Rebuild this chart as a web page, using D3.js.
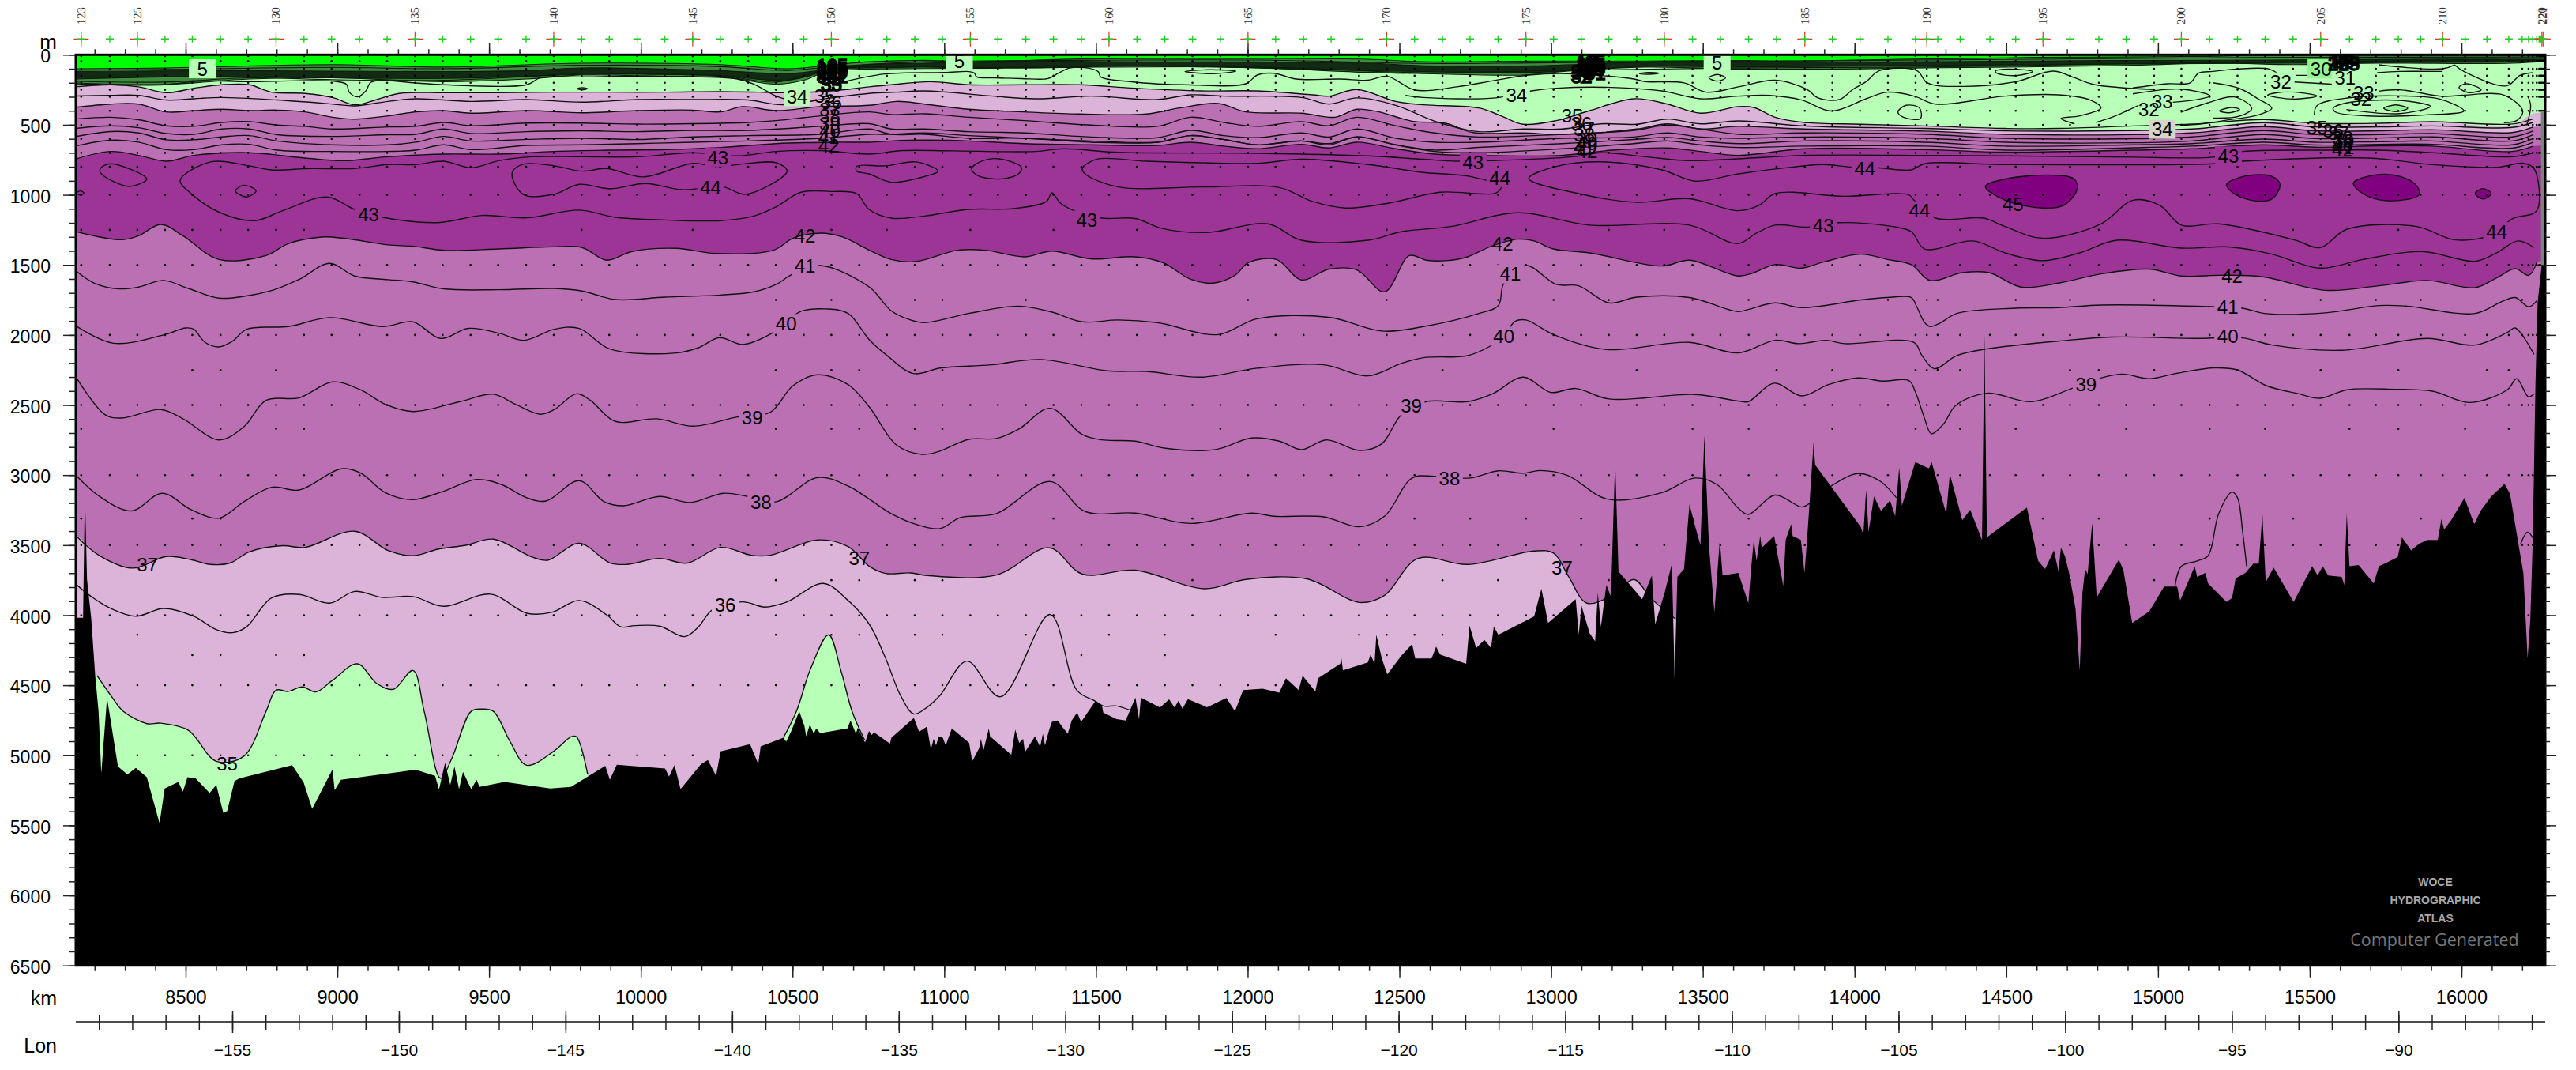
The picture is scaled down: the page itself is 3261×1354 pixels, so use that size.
<!DOCTYPE html>
<html>
<head>
<meta charset="utf-8">
<script src="https://cdn.jsdelivr.net/npm/d3@7/dist/d3.min.js"></script>
<style>
body{margin:0;background:#fff;}
svg{display:block;}
text{font-family:"Liberation Sans",Arial,sans-serif;fill:#000;}
</style>
</head>
<body>
<div id="chart"></div>
<script>
// ---- data: all points are [distance km, depth m] ----
var kmMajor = [8500,9000,9500,10000,10500,11000,11500,12000,12500,13000,13500,14000,14500,15000,15500,16000];
var depthMajor = [0,500,1000,1500,2000,2500,3000,3500,4000,4500,5000,5500,6000,6500];
var lonMajor = [-155,-150,-145,-140,-135,-130,-125,-120,-115,-110,-105,-100,-95,-90];

var stationNo = [123,124,125,126,127,128,129,130,131,132,133,134,135,136,137,138,139,140,141,142,143,144,145,146,147,148,149,150,151,152,153,154,155,156,157,158,159,160,161,162,163,164,165,166,167,168,169,170,171,172,173,174,175,176,177,178,179,180,181,182,183,184,185,186,187,188,189,190,191,192,193,194,195,196,197,198,199,200,201,202,203,204,205,206,207,208,209,210,211,212,213,214,215,216,217,218,219,220,221];
var stationKm = [8156,8250,8341,8432,8522,8615,8706,8798,8890,8981,9073,9164,9256,9347,9439,9530,9622,9713,9805,9896,9988,10079,10171,10262,10354,10445,10537,10628,10720,10811,10903,10994,11086,11177,11269,11360,11452,11543,11635,11727,11818,11910,12001,12092,12184,12275,12367,12458,12550,12642,12733,12825,12917,13008,13099,13190,13282,13373,13466,13558,13651,13743,13836,13927,14018,14110,14201,14238,14274,14348,14446,14531,14621,14710,14805,14895,14987,15077,15170,15262,15353,15445,15536,15631,15718,15792,15866,15938,16012,16084,16156,16200,16221,16235,16248,16256,16262,16265,16269];
var stationLabelled = [123,125,130,135,140,145,150,155,160,165,170,175,180,185,190,195,200,205,210,220,221];

var bottleLevels = [10,45,100,150,200,250,300,400,500,600,700,800,1000,1500,2000,2500,3000,3500,4000,4500,5000];
var sparse1250 = [123,124,125,126,127,128,129,130,131,141,145,150,152,155,158,161,165,170,175,178,180,183,186,188,192,197,200,204,208,212];
var sparse1750 = [141,148,150,153,154,157,165,170,174,176,178,181,183,188,190,191,194,196,199,203,205,207,209,214];
var sparse2250 = [127,128,130,148,150,151,153,154,165,172,179,184,186,189,190,191,192,196,197,199,202,205,208,212,213];
var sparse2670 = [123,128,130,131,148,150,151,153,154,164,170,176,181,183,186,189,192,194,198,201,203,206,208,211,213];
var sparse3310 = [123,127,128,153,154,158,162,163,164,171,173,175,177,181,183,189,195,197,201,204,209,211,213];
var sparse3750 = [148,150,151,153,154,163,170,172,174,178,185,187,190,192,194,196,199,203,205,207,209,212];
var sparse4140 = [125,148,150,151,153,154,157,160,162,166,169,170,171,172,175,178];
var sparse4285 = [127,128,130,131,159,162,170,173,176,177];

// fill boundaries / contours in the upper layers
var c34West = [[8135,229],[8253,214],[8345,229],[8436,271],[8527,239],[8619,214],[8710,214],[8783,267],[8893,276],[8984,305],[9057,357],[9130,320],[9203,276],[9350,271],[9532,271],[9715,267],[9898,267],[10080,267],[10263,263],[10391,267],[10482,271],[10628,258],[10753,229],[10825,214],[10953,192],[11081,214],[11264,214],[11446,214],[11629,239],[11848,258],[12031,258],[12214,286],[12268,295],[12360,248],[12488,333],[12579,357],[12762,380],[12835,436],[12908,496],[13017,470],[13127,399],[13273,314],[13383,352],[13492,417],[13617,370],[13668,376],[13738,446],[13835,483],[14020,496]];
var c34EastFill = [[14231,508],[14496,530],[14672,540],[14918,541],[15112,530],[15348,476],[15517,494],[15728,494],[15904,476],[16167,504],[16237,419]];
var c34EastLine = [[14231,508],[14496,526],[14672,526],[14918,508],[15112,495],[15348,462],[15517,489],[15728,489],[15904,478],[16167,494],[16237,457]];
var c35 = [[8135,295],[8253,290],[8345,290],[8436,323],[8527,314],[8619,305],[8802,323],[8984,352],[9057,365],[9167,333],[9258,314],[9441,333],[9624,320],[9806,338],[9989,320],[10172,320],[10354,323],[10465,357],[10628,308],[10752,276],[10843,267],[10935,258],[11300,314],[11483,295],[11702,320],[11812,286],[11921,295],[12177,305],[12268,352],[12360,308],[12488,361],[12616,474],[12762,549],[12908,530],[13036,530],[13163,493],[13282,496],[13383,459],[13492,493],[13617,472],[13835,508],[14231,526],[14496,543],[14918,541],[15112,530],[15348,485],[15517,515],[15728,515],[15904,508],[16167,519],[16237,482]];
var c37Up = [[8135,376],[8253,352],[8345,352],[8436,408],[8527,399],[8619,389],[8710,399],[8802,395],[8893,408],[8984,446],[9057,459],[9167,436],[9258,408],[9350,399],[9441,417],[9624,399],[9806,414],[9989,399],[10172,395],[10263,408],[10336,370],[10446,399],[10592,370],[10753,361],[10843,333],[10935,352],[11081,389],[11264,408],[11446,423],[11666,423],[11775,380],[11903,348],[11994,408],[12177,417],[12287,446],[12360,389],[12433,408],[12542,474],[12652,489],[12743,555],[12908,558],[13036,568],[13282,530],[13383,493],[13492,530],[13617,511],[13835,530],[14231,545],[14496,568],[14918,570],[15112,558],[15348,513],[15517,543],[15728,543],[15904,535],[16167,555],[16237,515]];
var c38Up = [[8135,459],[8253,446],[8345,464],[8436,507],[8527,511],[8619,483],[8710,477],[8802,502],[8893,511],[8984,530],[9167,515],[9258,511],[9350,483],[9441,507],[9624,488],[9806,488],[9989,495],[10172,492],[10354,483],[10446,470],[10592,436],[10753,408],[10825,427],[10935,421],[11081,446],[11264,470],[11483,502],[11702,511],[11812,446],[11921,483],[12031,511],[12177,477],[12268,507],[12360,446],[12488,507],[12616,558],[12762,587],[13036,568],[13273,540],[13383,502],[13492,530],[13617,568],[13835,558],[14231,568],[14496,596],[14918,599],[15112,586],[15348,541],[15517,570],[15728,570],[15904,562],[16167,586],[16237,543]];
var c39Up = [[8135,526],[8253,507],[8345,521],[8436,562],[8527,568],[8619,530],[8710,530],[8802,571],[8984,583],[9167,571],[9258,568],[9350,530],[9441,562],[9624,549],[9806,543],[9989,549],[10172,540],[10354,540],[10592,511],[10753,492],[10825,530],[10935,530],[11081,549],[11264,558],[11483,587],[11702,592],[11812,540],[11921,577],[12031,592],[12177,558],[12268,587],[12360,530],[12488,596],[12616,624],[12762,624],[13036,596],[13273,587],[13383,558],[13492,587],[13617,596],[13835,587],[14231,596],[14496,624],[14918,628],[15112,615],[15348,569],[15517,598],[15728,594],[15904,586],[16167,615],[16237,570]];
var c40Up = [[8135,585],[8253,548],[8345,558],[8436,607],[8527,607],[8619,586],[8710,577],[8802,615],[8984,643],[9167,643],[9258,624],[9350,583],[9441,615],[9624,604],[9806,596],[9989,605],[10172,586],[10354,577],[10592,568],[10753,530],[10825,568],[10935,568],[11081,596],[11264,596],[11483,624],[11702,624],[11812,577],[11921,605],[12031,643],[12177,615],[12268,634],[12360,586],[12488,643],[12616,680],[12762,661],[13036,634],[13273,605],[13383,590],[13492,615],[13617,634],[13835,615],[14231,624],[14496,652],[14918,643],[15112,634],[15348,602],[15517,624],[15728,620],[15904,615],[16167,643],[16237,597]];
var c41Up = [[8135,652],[8253,610],[8345,624],[8436,677],[8527,677],[8619,643],[8710,639],[8802,681],[8984,690],[9167,690],[9258,681],[9350,643],[9441,677],[9624,647],[9806,643],[9989,634],[10172,624],[10354,615],[10592,596],[10753,568],[10825,568],[10935,558],[11081,577],[11264,596],[11483,615],[11702,624],[11812,577],[11921,605],[12031,643],[12177,615],[12268,643],[12360,586],[12488,643],[12616,690],[12762,699],[13036,671],[13273,634],[13383,615],[13492,643],[13617,662],[13835,652],[14231,652],[14496,681],[14918,664],[15112,652],[15348,624],[15517,644],[15728,639],[15904,639],[16167,667],[16237,624]];
var c42Up = [[8135,746],[8253,690],[8345,718],[8436,760],[8527,718],[8710,699],[8893,737],[9021,756],[9167,728],[9350,709],[9532,709],[9715,690],[9898,681],[10080,677],[10263,662],[10446,634],[10628,624],[10753,624],[10825,615],[10935,609],[11081,615],[11264,634],[11483,643],[11702,647],[11812,624],[11921,652],[12031,671],[12177,639],[12268,665],[12360,624],[12488,671],[12616,709],[12762,718],[13036,718],[13200,681],[13383,665],[13492,690],[13617,718],[13835,671],[14231,677],[14496,695],[14918,681],[15112,671],[15348,643],[15517,660],[15728,650],[15904,652],[16167,690],[16237,652]];

// deep contours
var c42Deep = [[8135,1260],[8217,1301],[8290,1320],[8345,1292],[8418,1211],[8491,1292],[8610,1461],[8765,1433],[8838,1348],[8948,1301],[9021,1310],[9167,1357],[9249,1367],[9350,1395],[9532,1386],[9715,1371],[9806,1376],[9888,1466],[9971,1404],[10117,1382],[10245,1418],[10437,1395],[10501,1310],[10592,1273],[10665,1301],[10753,1395],[10825,1461],[10907,1476],[11044,1395],[11136,1395],[11264,1442],[11355,1401],[11483,1457],[11629,1442],[11720,1483],[11812,1602],[11885,1630],[11958,1574],[12003,1483],[12095,1461],[12177,1607],[12268,1530],[12360,1536],[12451,1692],[12533,1433],[12588,1466],[12652,1470],[12725,1442],[12798,1371],[12890,1316],[12944,1329],[13008,1386],[13127,1414],[13365,1508],[13456,1466],[13617,1579],[13668,1555],[13738,1498],[13826,1523],[13897,1480],[14020,1423],[14108,1461],[14187,1498],[14249,1611],[14355,1555],[14443,1555],[14548,1658],[14672,1630],[14812,1564],[14971,1530],[15077,1579],[15200,1574],[15341,1583],[15552,1681],[15728,1649],[15887,1611],[16045,1662],[16116,1592],[16177,1527],[16222,1574],[16248,1480]];
var c41 = [[8135,1536],[8199,1630],[8281,1671],[8345,1658],[8427,1611],[8509,1668],[8610,1737],[8692,1724],[8792,1677],[8875,1602],[8975,1489],[9057,1579],[9167,1605],[9249,1621],[9350,1671],[9532,1677],[9715,1668],[9806,1686],[9916,1747],[10080,1730],[10263,1715],[10373,1692],[10446,1639],[10501,1564],[10592,1504],[10753,1658],[10825,1827],[10889,1893],[10935,1912],[11081,1846],[11245,1794],[11355,1837],[11455,1906],[11574,1893],[11702,1912],[11903,1997],[12031,1884],[12268,1874],[12442,1972],[12579,1940],[12762,1846],[12826,1790],[12844,1630],[12917,1504],[13017,1639],[13090,1649],[13191,1771],[13282,1730],[13456,1733],[13615,1833],[13650,1818],[13738,1771],[13826,1805],[14020,1750],[14108,1733],[14187,1733],[14205,1799],[14231,1912],[14249,1940],[14284,1912],[14337,1846],[14531,1809],[14672,1805],[14812,1786],[15129,1795],[15279,1809],[15350,1846],[15552,1842],[15728,1790],[15816,1793],[16045,1846],[16133,1762],[16177,1733],[16222,1799],[16248,1756]];
var c40 = [[8135,1931],[8262,2059],[8427,2000],[8500,1950],[8527,1959],[8564,2053],[8610,2085],[8655,2044],[8701,1959],[8838,1940],[8975,1876],[9149,1940],[9249,1906],[9340,2025],[9432,1953],[9532,1987],[9615,2038],[9715,1959],[9797,1953],[9898,2100],[10117,2128],[10190,2091],[10259,2019],[10336,2068],[10437,1982],[10528,1831],[10610,1814],[10683,1846],[10753,2034],[10807,2138],[10898,2275],[10990,2235],[11154,2213],[11318,2175],[11538,2256],[11666,2260],[11848,2301],[12031,2237],[12250,2213],[12396,2292],[12506,2203],[12579,2162],[12725,2147],[12798,2081],[12844,2010],[12881,1903],[12917,1893],[13008,1997],[13182,2104],[13456,2053],[13617,2128],[13738,2038],[13817,2062],[13906,2038],[13967,2062],[14196,2053],[14222,2147],[14263,2241],[14337,2147],[14434,2100],[14672,2044],[14848,2015],[15129,2025],[15279,2021],[15376,2072],[15605,2109],[15887,2025],[16045,2072],[16151,1982],[16177,1950],[16239,2138]];
var c39 = [[8135,2288],[8235,2570],[8290,2593],[8418,2532],[8491,2598],[8610,2749],[8692,2655],[8765,2467],[8875,2448],[8984,2335],[9076,2391],[9158,2495],[9249,2546],[9404,2476],[9514,2423],[9587,2495],[9669,2566],[9715,2532],[9788,2420],[9834,2467],[9916,2617],[10053,2598],[10172,2651],[10318,2585],[10427,2551],[10501,2363],[10583,2284],[10683,2354],[10753,2514],[10843,2786],[10926,2852],[10980,2833],[11081,2745],[11172,2739],[11245,2673],[11349,2523],[11455,2711],[11519,2749],[11629,2758],[11729,2809],[11894,2818],[12013,2735],[12104,2758],[12177,2818],[12259,2749],[12369,2824],[12442,2777],[12506,2570],[12588,2476],[12725,2476],[12807,2420],[12908,2301],[12999,2410],[13081,2382],[13191,2457],[13474,2425],[13617,2472],[13650,2476],[13735,2344],[13826,2435],[13914,2354],[14011,2307],[14090,2329],[14179,2326],[14201,2410],[14231,2598],[14253,2705],[14293,2636],[14333,2504],[14434,2416],[14584,2476],[14716,2382],[14812,2307],[14883,2279],[14971,2312],[15059,2275],[15182,2235],[15262,2250],[15358,2363],[15464,2420],[15535,2452],[15623,2391],[15781,2388],[15904,2401],[16027,2482],[16151,2391],[16182,2312],[16221,2442],[16239,2420]];
var c38 = [[8135,2993],[8217,3153],[8321,3256],[8423,3130],[8518,3247],[8610,3307],[8692,3190],[8783,3087],[8875,3106],[9012,2955],[9076,2984],[9158,3125],[9249,3175],[9350,3115],[9459,3031],[9541,3068],[9624,3162],[9688,3185],[9797,3040],[9879,3190],[9943,3219],[10062,3153],[10162,3196],[10272,3130],[10354,3153],[10446,3190],[10583,3017],[10683,3078],[10753,3172],[10825,3275],[10898,3345],[10986,3382],[11053,3303],[11172,3275],[11349,3046],[11465,3260],[11629,3271],[11812,3345],[12013,3271],[12086,3294],[12250,3298],[12369,3369],[12451,3294],[12542,3021],[12616,3008],[12734,3021],[12826,2969],[12908,2987],[12963,2967],[13054,3002],[13186,3172],[13365,3125],[13474,3021],[13547,3068],[13617,3237],[13650,3281],[13738,3143],[13826,3228],[13853,3200],[13923,3078],[14011,2989],[14082,3040],[14138,3162]];
var c37Deep = [[8135,3425],[8217,3576],[8326,3664],[8436,3581],[8518,3604],[8582,3638],[8646,3628],[8710,3548],[8820,3504],[8893,3516],[9057,3401],[9167,3538],[9249,3576],[9331,3529],[9423,3501],[9514,3457],[9642,3585],[9693,3608],[9797,3487],[9898,3627],[9952,3638],[10062,3595],[10153,3628],[10263,3516],[10364,3572],[10427,3572],[10583,3463],[10683,3510],[10753,3651],[10807,3702],[10889,3698],[10944,3717],[11172,3713],[11346,3519],[11455,3707],[11629,3679],[11857,3811],[11994,3745],[12195,3741],[12369,3909],[12451,3858],[12561,3595],[12725,3638],[12944,3542],[13008,3557],[13058,3726],[13118,3914],[13209,3848],[13273,3745],[13328,3877],[13410,4027]];
var c37Bump = [[15056,3792],[15077,3651],[15129,3613],[15165,3576],[15200,3275],[15244,3121],[15262,3162],[15279,3407],[15292,3651]];
var c37Edge = [[16195,3491],[16218,3407],[16239,3463]];
var c36 = [[8135,3773],[8189,3867],[8253,3952],[8336,4008],[8427,3952],[8527,4008],[8600,4102],[8655,4125],[8701,4083],[8783,3877],[8875,3852],[8975,3914],[9057,3830],[9149,3873],[9249,3867],[9350,3937],[9505,3850],[9624,3986],[9706,3980],[9797,3895],[9888,3999],[9934,4083],[9980,4074],[10062,4078],[10144,4153],[10190,4083],[10236,3961],[10336,3905],[10409,3942],[10482,3905],[10601,3773],[10683,3895],[10753,4065],[10807,4309],[10856,4573],[10900,4705],[10943,4658],[10986,4573],[11075,4328],[11185,4582],[11349,3995],[11437,4535],[11498,4614],[11524,4648],[11568,4648],[11610,4676]];
var c35West = [[8208,4431],[8253,4572],[8294,4685],[8372,4774],[8418,4771],[8509,4821],[8601,5043],[8692,5006],[8765,4686],[8798,4535],[8838,4544],[8884,4512],[8929,4548],[8984,4465],[9066,4347],[9130,4488],[9185,4529],[9249,4394],[9286,4685],[9340,5165],[9377,5024],[9441,4686],[9474,4670],[9514,4686],[9569,4902],[9624,5071],[9715,4968],[9770,4868],[9788,4868],[9825,5137]];
var c35East = [[10470,4874],[10513,4685],[10560,4380],[10619,4140],[10660,4400],[10696,4685],[10738,4893]];

// closed contours around the core of the high values
var c43 = [[16237,699],[16167,728],[15904,699],[15728,681],[15552,681],[15279,690],[15182,731],[14918,731],[14496,722],[14231,718],[13835,718],[13615,743],[13456,756],[13310,728],[13163,699],[13072,728],[12798,756],[12689,760],[12579,746],[12396,722],[12031,703],[11574,696],[11391,671],[11300,690],[11026,686],[10862,684],[10752,709],[10592,684],[10446,690],[10318,722],[10172,699],[9989,728],[9806,728],[9642,728],[9532,756],[9441,807],[9350,760],[9258,784],[9167,784],[9057,812],[8911,812],[8783,822],[8710,793],[8582,765],[8482,897],[8518,991],[8619,1132],[8728,1184],[8820,1113],[8966,1015],[9057,1104],[9149,1160],[9331,1198],[9477,1147],[9624,1164],[9797,1109],[9916,1160],[10080,1179],[10263,1184],[10373,1151],[10446,1085],[10528,981],[10628,976],[10711,991],[10752,1104],[10825,1166],[10935,1151],[11081,1104],[11227,1098],[11337,1047],[11355,985],[11382,1057],[11428,1113],[11519,1166],[11629,1169],[11720,1241],[11866,1269],[12067,1207],[12177,1324],[12396,1324],[12506,1263],[12670,1226],[12890,1128],[13127,1216],[13456,1216],[13615,1348],[13677,1273],[13738,1216],[13844,1230],[13950,1198],[14126,1226],[14187,1263],[14231,1386],[14390,1329],[14496,1414],[14619,1470],[14742,1414],[14865,1324],[15077,1380],[15235,1372],[15376,1423],[15534,1523],[15675,1461],[15869,1404],[16045,1474],[16116,1414],[16186,1329],[16239,1376]];
var loop44East = [[12926,884],[13017,797],[13182,765],[13365,822],[13474,902],[13617,850],[13791,803],[13897,784],[13994,803],[14082,808],[14187,822],[14231,778],[14496,784],[15182,778],[15279,760],[15693,737],[15904,784],[16116,803],[16204,775],[16239,812],[16248,1113],[16169,1169],[16116,1263],[16081,1301],[15975,1320],[15852,1226],[15623,1245],[15535,1376],[15447,1320],[15200,1207],[15077,1216],[15006,1075],[14918,1038],[14812,1207],[14619,1310],[14496,1226],[14425,1166],[14267,1166],[14196,1038],[14179,1000],[13967,1010],[13738,991],[13685,1075],[13615,1113],[13456,1028],[13282,1053],[13090,991]];
var loop44A = [[8219,812],[8253,778],[8372,887],[8317,940],[8263,906],[8219,840]];
var loop44B = [[8664,972],[8692,931],[8732,972],[8701,1015]];
var loop44C = [[8140,987],[8153,972],[8165,987],[8153,1002]];
var loop44D = [[9578,831],[9615,780],[9715,793],[9806,831],[9888,812],[10007,872],[10172,775],[10245,797],[10446,771],[10482,831],[10345,996],[10272,944],[10135,963],[10016,919],[9898,957],[9797,925],[9715,995],[9615,1000],[9578,887]];
var loop44E = [[10711,797],[10807,793],[10907,765],[10980,831],[10935,869],[10825,910],[10752,850],[10711,830]];
var loop44F = [[11090,812],[11127,756],[11181,743],[11254,803],[11245,850],[11181,887],[11108,859]];
var loop44G = [[11455,812],[11501,746],[11666,760],[11848,771],[12031,775],[12177,746],[12396,784],[12579,840],[12734,869],[12835,944],[12817,987],[12634,981],[12469,1057],[12323,1094],[12214,1047],[12104,948],[11848,944],[11574,944],[11464,850]];
var patch45A = [[14431,940],[14496,887],[14654,859],[14724,887],[14733,963],[14689,1075],[14619,1094],[14496,1038]];
var patch45B = [[15226,925],[15288,865],[15376,869],[15402,925],[15376,1028],[15306,1038],[15244,981]];
var patch45C = [[15644,916],[15711,859],[15799,869],[15852,934],[15860,1000],[15755,1042],[15675,991]];
var patch45D = [[16045,991],[16072,955],[16098,991],[16072,1030]];

// contours in the light green layer
var c33West = [[8135,207],[8431,214],[8546,188],[8710,192],[8984,188],[9030,211],[9039,267],[9066,301],[9094,258],[9112,195],[9258,201],[9350,214],[9624,214],[9669,164],[9806,158],[10080,154],[10318,173],[10373,211],[10446,295],[10482,320]];
var c33East = [[10666,194],[10804,137],[11000,127],[11082,120],[11099,130],[11107,158],[11170,165],[11255,170],[11342,170],[11377,130],[11412,95],[11473,95],[11507,120],[11516,158],[11618,193],[11705,208],[11793,214],[11994,207],[12031,145],[12086,132],[12159,173],[12305,173],[12396,182],[12460,154],[12552,252],[12689,229],[12817,182],[12926,145],[13054,135],[13273,173],[13310,192],[13438,201],[13511,267],[13617,229],[13738,182],[13844,248],[13879,308],[13950,320],[13994,248],[14038,192],[14082,113],[14205,113],[14240,201],[14355,226],[14531,192],[14654,117],[14725,164],[14786,211],[14988,248]];
var c34Mid = [[12520,290],[12579,305],[12817,308],[12935,258],[13017,239],[13200,233],[13365,258],[13492,314],[13617,295],[13721,290],[13826,323],[13923,402],[14038,314],[14108,267],[14196,295],[14267,352],[14496,295],[14672,286],[14777,323],[14812,380],[14742,436],[14680,455],[14725,493]];
var c32a = [[14795,483],[14848,446],[14936,361]];
var c32b = [[14917,237],[15031,207],[15106,200],[15133,132],[15181,119],[15260,102],[15366,102],[15397,138]];
var c32c = [[15181,200],[15269,241],[15331,316],[15375,382],[15331,429],[15225,467],[15137,495],[15075,504]];
var c32d = [[14917,279],[15075,245],[15172,294],[15137,316],[15049,339]];
var c32e = [[15075,410],[15163,344],[15251,301],[15309,382],[15269,438],[15181,452]];
var c32f = [[15515,429],[15524,363],[15630,307],[15797,294],[15929,316],[16008,401],[15885,429],[15709,438],[15586,410],[15577,382],[15621,344],[15797,326],[15898,369],[15797,420],[15621,391]];
var c32g = [[15727,260],[15797,250],[15938,297],[16008,288],[16140,288],[16202,401],[16184,467],[16140,485]];
var c32h = [[15977,72],[16008,119],[16149,222],[16193,147],[16237,128]];
var c32i = [[15727,72],[15938,100],[15977,72]];
var c32j = [[15722,128],[15797,119],[15938,119]];
var c32k = [[15449,194],[15595,213]];
var c32l = [[15454,147],[15498,147]];
var c32m = [[16219,297],[16228,363],[16215,504]];
var lens1 = [[14143,408],[14170,361],[14214,380],[14217,455],[14161,446]];
var lens2 = [[14464,117],[14513,102],[14587,120],[14531,149],[14469,132]];
var lens3 = [[11793,120],[11876,107],[11961,117],[11885,135]];
var lens4 = [[13291,135],[13319,126],[13355,132],[13319,139]];
var lens5 = [[13520,164],[13547,141],[13575,164],[13547,188]];
var lens6 = [[9790,242],[9806,235],[9825,242],[9806,250]];
var lens7 = [[15361,288],[15427,264],[15524,294],[15445,316]];
var lens8 = [[15203,401],[15243,376],[15269,391],[15234,414]];
var lens9 = [[15992,232],[16017,207],[16065,250],[16021,269]];
var patch31 = [[15744,382],[15784,358],[15823,382],[15784,406]];

// surface layer (packed contours, 0-200 m)
var surfaceBright = [[8135,100],[8436,94],[8984,70],[9350,88],[9806,60],[10263,70],[10482,100],[10640,70],[10753,50],[10935,40],[11082,49],[11447,30],[11702,26],[12031,26],[12396,32],[12579,50],[12944,45],[13310,45],[13617,41],[13791,45],[14143,32],[14407,26],[14584,19],[15200,11],[15288,4],[16300,4]];
var surfaceCoreTop = [[8135,120],[8619,113],[8984,117],[9350,120],[9624,113],[9806,94],[10080,102],[10263,113],[10482,135],[10628,102],[10753,70],[10935,60],[11081,51],[11300,45],[11666,51],[12031,51],[12396,60],[12579,79],[12944,79],[13310,51],[13617,51],[14143,51],[14848,41],[15376,38],[15728,32],[16300,32]];
var surfaceCoreBottom = [[8135,173],[8619,154],[8984,165],[9350,169],[9624,154],[9806,135],[10080,141],[10263,148],[10482,182],[10645,102],[10753,94],[10935,88],[11081,94],[11300,88],[11666,83],[12031,94],[12396,113],[12579,120],[12944,126],[13310,83],[13617,88],[14143,79],[14848,66],[15376,60],[15728,56],[16300,51]];
var surfaceBottom = [[8135,201],[8436,211],[8710,173],[8984,164],[9350,192],[9624,173],[9806,145],[10080,154],[10263,154],[10446,211],[10537,182],[10628,107],[10753,102],[10935,98],[11300,94],[11666,79],[12031,94],[12396,126],[12579,135],[12908,145],[13054,117],[13310,88],[13617,102],[13967,102],[14231,94],[14848,79],[15200,60],[15446,70],[15728,60],[16169,60],[16300,41]];
var meshLine1 = [[8135,110],[8436,105],[8984,90],[9350,100],[9806,75],[10263,85],[10482,112],[10640,84],[10935,50],[11447,40],[12031,38],[12579,62],[12944,58],[13617,46],[14407,35],[15288,20],[16300,16]];
var meshLine2 = [[8135,190],[8436,195],[8710,165],[8984,178],[9350,182],[9806,140],[10263,150],[10446,195],[10628,102],[11300,92],[12031,88],[12579,128],[13054,110],[13617,95],[14231,88],[15200,55],[16300,38]];

// sea floor
var bathy = [[8100,4018],[8162,4018],[8168,3125],[8175,3745],[8189,4027],[8202,4431],[8213,4686],[8222,5128],[8241,4591],[8248,4686],[8277,5081],[8308,5137],[8336,5090],[8372,5156],[8414,5485],[8431,5237],[8476,5190],[8491,5259],[8506,5156],[8533,5165],[8579,5269],[8601,5212],[8624,5410],[8637,5397],[8661,5184],[8677,5165],[8851,5071],[8889,5194],[8917,5382],[8984,5100],[8991,5250],[9012,5175],[9258,5103],[9322,5147],[9335,5244],[9355,5053],[9372,5212],[9386,5081],[9401,5241],[9414,5118],[9441,5241],[9459,5175],[9468,5226],[9551,5190],[9702,5237],[9770,5226],[9883,5075],[9898,5175],[9921,5068],[10080,5094],[10093,5152],[10111,5071],[10131,5241],[10199,5062],[10221,5034],[10248,5147],[10263,4972],[10360,4921],[10387,5062],[10395,4936],[10470,4874],[10479,4902],[10496,4827],[10522,4686],[10539,4789],[10545,4864],[10557,4780],[10570,4846],[10578,4808],[10591,4842],[10681,4808],[10691,4752],[10709,4846],[10715,4802],[10739,4908],[10752,4827],[10761,4855],[10769,4836],[10821,4917],[10826,4874],[10900,4733],[10917,4832],[10943,4795],[10956,4958],[10965,4883],[10973,4930],[10982,4864],[10995,4874],[11005,4930],[11025,4808],[11082,4911],[11092,5043],[11115,4949],[11121,4883],[11129,4968],[11147,4808],[11151,4864],[11221,4996],[11234,4817],[11247,4911],[11260,4883],[11266,4977],[11299,4864],[11316,4940],[11325,4846],[11332,4930],[11346,4817],[11355,4761],[11374,4752],[11390,4799],[11407,4846],[11420,4752],[11438,4695],[11451,4761],[11498,4614],[11520,4648],[11524,4695],[11568,4742],[11598,4752],[11630,4588],[11642,4742],[11648,4588],[11711,4658],[11741,4601],[11759,4658],[11772,4611],[11785,4667],[11803,4600],[11866,4657],[11930,4591],[11958,4685],[11985,4535],[12049,4525],[12104,4553],[12126,4450],[12168,4535],[12181,4431],[12223,4544],[12232,4450],[12305,4347],[12309,4309],[12314,4394],[12396,4337],[12405,4281],[12418,4347],[12424,4140],[12442,4309],[12460,4422],[12506,4290],[12542,4206],[12552,4309],[12606,4309],[12621,4224],[12634,4281],[12720,4347],[12731,4074],[12753,4234],[12780,4177],[12802,4234],[12811,4080],[12826,4140],[12944,4008],[12968,3811],[12990,4055],[13081,3886],[13091,4140],[13100,3933],[13127,4130],[13145,4187],[13154,3839],[13164,4083],[13182,3783],[13197,3867],[13211,2899],[13222,3689],[13282,3839],[13300,3886],[13332,3717],[13343,4065],[13374,3839],[13398,3632],[13407,4459],[13416,3726],[13438,3670],[13456,3209],[13474,3360],[13492,3501],[13505,2720],[13520,3501],[13538,3980],[13556,3463],[13565,3717],[13617,3698],[13650,3914],[13659,3670],[13668,3463],[13677,3613],[13689,3435],[13694,3519],[13735,3435],[13765,3792],[13773,3463],[13791,3350],[13796,3435],[13823,3463],[13835,3698],[13844,3444],[13865,2767],[13870,2927],[14020,3369],[14029,3425],[14038,3106],[14046,3407],[14064,3153],[14087,3256],[14117,3181],[14134,3294],[14147,2946],[14156,3219],[14200,2908],[14245,2952],[14254,2908],[14302,3275],[14314,2993],[14355,3322],[14381,3247],[14420,3463],[14428,2000],[14436,3444],[14568,3232],[14605,3613],[14628,3670],[14657,3538],[14672,3689],[14680,3519],[14693,3576],[14707,3698],[14728,3952],[14742,4394],[14751,3839],[14760,3670],[14768,3707],[14783,3341],[14798,3873],[14871,3604],[14886,3679],[14915,4055],[14971,3974],[15020,3796],[15063,3796],[15073,3895],[15121,3651],[15129,3726],[15156,3698],[15165,3773],[15226,3905],[15244,3877],[15256,3736],[15288,3698],[15314,3632],[15332,3632],[15344,3275],[15355,3764],[15381,3660],[15447,3905],[15508,3651],[15526,3717],[15543,3651],[15561,3717],[15605,3726],[15614,3783],[15622,3275],[15631,3651],[15661,3642],[15711,3773],[15728,3651],[15755,3623],[15790,3585],[15804,3444],[15834,3538],[15860,3491],[15887,3463],[15922,3463],[15934,3313],[15943,3388],[15966,3322],[16010,3162],[16042,3350],[16063,3256],[16098,3153],[16142,3063],[16160,3134],[16204,3698],[16218,4309],[16227,4027],[16235,3463],[16244,2335],[16251,1771],[16265,1489],[16270,1113],[16300,1113],[16300,6600],[8100,6600]];
var noData = [[16262,400],[16282,400],[16282,1500],[16262,1500]];

// contour labels: text, km, depth, colour of the patch behind it (null = none)
var contourLabels = [
  ['5',8555,100,'#b8ffb8'],['5',11050,45,'#b8ffb8'],['5',13547,55,'#b8ffb8'],
  ['34',10515,299,'#b8ffb8'],['34',12886,286,'#b8ffb8'],['34',15014,532,'#d8d4c8'],
  ['43',10254,731,'#9c3595'],['44',10230,948,'#9c3595'],['43',9103,1141,'#9c3595'],
  ['42',10541,1292,null],['41',10541,1508,'#ba70b2'],['40',10479,1918,'#ba70b2'],
  ['39',10367,2589,'#ba70b2'],['38',10396,3190,'#ba70b2'],['37',8374,3636,null],
  ['36',10278,3924,'#dcb4d9'],['35',8637,5062,null],['37',10720,3591,null],
  ['43',11470,1179,'#9c3595'],['43',12743,765,'#9c3595'],['44',12831,878,'#9c3595'],
  ['42',12840,1348,null],['41',12866,1564,'#ba70b2'],['40',12844,2010,'#ba70b2'],
  ['39',12539,2504,'#ba70b2'],['38',12665,3025,'#ba70b2'],['37',13036,3660,null],
  ['44',14034,812,'#9c3595'],['45',14522,1066,null],['44',14214,1113,'#9c3595'],
  ['43',13897,1216,'#9c3595'],['44',16116,1263,'#9c3595'],['42',15244,1582,null],
  ['41',15230,1799,'#ba70b2'],['40',15230,2010,'#ba70b2'],['43',15232,722,'#9c3595'],
  ['39',14763,2350,'#ba70b2'],['30',15537,100,'#92f592'],['31',15617,166,'#b8ffb8'],
  ['32',15405,194,'#b8ffb8']
];
// labels piled up where the section turns: no patch behind them
var pileLabels = [
  ['10',10614,80],['15',10648,80],['20',10614,100],['25',10648,100],['28',10614,125],['29',10648,125],['30',10614,155],['31',10648,155],['32',10628,172],['33',10628,207],
  ['35',10606,295],['36',10628,338],['37',10623,389],['38',10623,436],['39',10623,493],['40',10623,540],['41',10619,587],['42',10619,647],
  ['10',13118,50],['15',13145,50],['20',13118,75],['25',13145,75],['28',13118,100],['29',13145,100],['30',13100,126],['31',13145,130],['32',13100,150],
  ['35',13069,436],['36',13100,493],['37',13109,530],['38',13109,568],['39',13118,605],['40',13118,633],['41',13109,662],['42',13118,690],
  ['33',15678,269],['32',15669,316],['33',15014,335],['32',14970,388],
  ['10',15595,30],['15',15630,30],['20',15595,60],['25',15630,60],['28',15612,45],
  ['35',15524,517],['36',15577,542],['37',15595,561],['38',15608,590],['39',15612,617],['40',15608,645],['41',15612,660],['42',15608,677]
];

// ---- layout ----
var width = 3261, height = 1354;
var x = d3.scaleLinear().domain([8500,16000]).range([235,3116]);
var y = d3.scaleLinear().domain([0,6500]).range([69.3,1221.7]);
var lon = d3.scaleLinear().domain([-155,-90]).range([294,3036.3]);
var plotLeft = 96, plotRight = 3222;
var colGreen = '#b8ffb8', colPink = '#dcb4d9', colMid = '#ba70b2', colDark = '#9c3595', colDeep = '#80007f';

var svg = d3.select('#chart').append('svg').attr('width',width).attr('height',height);
svg.append('rect').attr('width',width).attr('height',height).attr('fill','#fff');
svg.append('defs').append('clipPath').attr('id','plotClip').append('rect')
  .attr('x',plotLeft).attr('y',y(0)).attr('width',plotRight-plotLeft).attr('height',y(6500)-y(0));

var smooth = d3.line().x(function(d){return x(d[0]);}).y(function(d){return y(d[1]);}).curve(d3.curveCatmullRom.alpha(0.5));
var smoothClosed = d3.line().x(function(d){return x(d[0]);}).y(function(d){return y(d[1]);}).curve(d3.curveCatmullRomClosed.alpha(0.5));
var straight = d3.line().x(function(d){return x(d[0]);}).y(function(d){return y(d[1]);});

// close the band between two curves that both run west to east
function band(top, bottom){
  return smooth(top)+'L'+smooth(bottom.slice().reverse()).slice(1)+'Z';
}
function toEdge(a){
  var s = [[8100,a[0][1]]].concat(a);
  return s.concat([[16300,a[a.length-1][1]]]);
}
var seaTop = [[8100,0],[16300,0]];
var seaBottom = [[8100,6600],[16300,6600]];

var plot = svg.append('g').attr('clip-path','url(#plotClip)');
function fillPath(d,col){ plot.append('path').attr('d',d).attr('fill',col); }

// colour layers, painted from the back
fillPath(band(seaTop,seaBottom),colPink);
fillPath(band(seaTop,toEdge(c34West.concat(c34EastFill))),colGreen);
fillPath(band(toEdge(c37Up),toEdge(c37Deep.concat([[13450,5200],[16300,5200]]))),colMid);
fillPath(band(toEdge(c42Up),toEdge(c42Deep)),colDark);
[patch45A,patch45B,patch45C,patch45D].forEach(function(p){ fillPath(smoothClosed(p),colDeep); });
fillPath(smooth(c35West)+'L'+x(9825)+','+y(5600)+'L'+x(8100)+','+y(5600)+'L'+x(8100)+','+y(4300)+'Z',colGreen);
fillPath(smooth(c35East)+'L'+x(10738)+','+y(5400)+'L'+x(10470)+','+y(5400)+'Z',colGreen);
fillPath(smoothClosed(patch31),'#92f592');

// surface layer
fillPath(band(seaTop,toEdge(surfaceBottom)),'#3f8c3f');
fillPath(band(toEdge(surfaceCoreTop),toEdge(surfaceCoreBottom)),'#122a14');
fillPath(band(seaTop,toEdge(surfaceBright)),'#00ff00');

// contour lines
var contourLines = [c34West.concat(c34EastLine),c35,c37Up,c38Up,c39Up,c40Up,c41Up,c42Up,c43,c42Deep,c41,c40,c39,c38,c37Deep,c37Bump,c37Edge,c36,c35West,c35East,c33West,c33East,c34Mid,c32a,c32b,c32c,c32d,c32e,c32f,c32g,c32h,c32i,c32j,c32k,c32l,c32m];
plot.selectAll('path.contour').data(contourLines).enter().append('path').attr('class','contour')
  .attr('d',smooth).attr('fill','none').attr('stroke','#111').attr('stroke-width',1.4);
var contourLoops = [loop44East,loop44A,loop44B,loop44C,loop44D,loop44E,loop44F,loop44G,patch45A,patch45B,patch45C,patch45D,lens1,lens2,lens3,lens4,lens5,lens6,lens7,lens8,lens9,patch31];
plot.selectAll('path.loop').data(contourLoops).enter().append('path').attr('class','loop')
  .attr('d',smoothClosed).attr('fill','none').attr('stroke','#111').attr('stroke-width',1.4);
plot.selectAll('path.mesh').data([surfaceBright,surfaceBottom,surfaceCoreTop,surfaceCoreBottom,meshLine1,meshLine2]).enter().append('path').attr('class','mesh')
  .attr('d',smooth).attr('fill','none').attr('stroke','#0c1c0c').attr('stroke-width',1.1);

// bottle positions
var bottles = [];
stationKm.forEach(function(k){
  bottleLevels.forEach(function(l){ bottles.push([k,l]); });
});
function addSparse(list,level){
  list.forEach(function(n){ bottles.push([stationKm[stationNo.indexOf(n)],level]); });
}
addSparse(sparse1250,1250); addSparse(sparse1750,1750); addSparse(sparse2250,2250); addSparse(sparse2670,2670);
addSparse(sparse3310,3310); addSparse(sparse3750,3750); addSparse(sparse4140,4140); addSparse(sparse4285,4285);
plot.selectAll('circle.bottle').data(bottles).enter().append('circle').attr('class','bottle')
  .attr('cx',function(d){return x(d[0]);}).attr('cy',function(d){return y(d[1]);}).attr('r',1.3).attr('fill','#000');

// sea floor on top
fillPath(straight(bathy)+'Z','#000');
fillPath(straight(noData)+'Z','#808080');

// contour labels
var labelG = svg.append('g').attr('clip-path','url(#plotClip)');
contourLabels.forEach(function(l){
  if(l[3]){
    labelG.append('rect').attr('x',x(l[1])-17).attr('y',y(l[2])-12).attr('width',34).attr('height',24).attr('fill',l[3]);
  }
});
contourLabels.concat(pileLabels).forEach(function(l){
  var t = labelG.append('text').attr('x',x(l[1])).attr('y',y(l[2])).attr('dy','.36em').attr('text-anchor','middle').attr('font-size',24).text(l[0]);
  // the surface piles print as solid black in the original
  if(l.length==3 && l[2]<210){ t.attr('stroke','#000').attr('stroke-width',1.6); }
});

// watermark
var mark = svg.append('g').attr('text-anchor','middle');
[['WOCE',1121],['HYDROGRAPHIC',1144],['ATLAS',1167]].forEach(function(m){
  mark.append('text').attr('x',3083).attr('y',m[1]).attr('font-size',14).attr('font-weight','bold').style('fill','#a8a8a8').text(m[0]);
});
mark.append('text').attr('x',3082).attr('y',1197).attr('font-size',21.5).style('font-family','"Open Sans",sans-serif').style('fill','#777').text('Computer Generated');

// frame
svg.append('rect').attr('x',plotLeft).attr('y',y(0)).attr('width',plotRight-plotLeft).attr('height',y(6500)-y(0))
  .attr('fill','none').attr('stroke','#000').attr('stroke-width',3);

// axes: major ticks and labels, minor ticks from a second axis
var kmMinor = d3.range(8200,16300,100);
var depthMinor = d3.range(0,6600,100);
function styleAxis(g){
  g.select('.domain').remove();
  g.selectAll('.tick line').attr('stroke','#222').attr('stroke-width',1.5);
  return g;
}
styleAxis(svg.append('g').attr('transform','translate(0,'+y(0)+')').call(d3.axisTop(x).tickValues(kmMinor).tickSize(7).tickFormat('')));
styleAxis(svg.append('g').attr('transform','translate(0,'+y(0)+')').call(d3.axisTop(x).tickValues(kmMajor).tickSize(15).tickFormat('')));
styleAxis(svg.append('g').attr('transform','translate(0,'+y(6500)+')').call(d3.axisBottom(x).tickValues(kmMinor).tickSize(7).tickFormat('')));
var kmAxis = styleAxis(svg.append('g').attr('transform','translate(0,'+y(6500)+')').call(d3.axisBottom(x).tickValues(kmMajor).tickSize(15).tickPadding(17).tickFormat(d3.format('d'))));
kmAxis.selectAll('text').attr('font-size',23.5).style('font-family','"Liberation Sans",Arial,sans-serif').style('fill','#000');

styleAxis(svg.append('g').attr('transform','translate('+plotLeft+',0)').call(d3.axisLeft(y).tickValues(depthMinor).tickSize(9).tickFormat('')));
var depthAxis = styleAxis(svg.append('g').attr('transform','translate('+plotLeft+',0)').call(d3.axisLeft(y).tickValues(depthMajor).tickSize(16).tickPadding(16).tickFormat(d3.format('d'))));
depthAxis.selectAll('text').attr('font-size',23).attr('dy','.42em').style('font-family','"Liberation Sans",Arial,sans-serif').style('fill','#000');
styleAxis(svg.append('g').attr('transform','translate('+plotRight+',0)').call(d3.axisRight(y).tickValues(depthMinor).tickSize(6).tickFormat('')));
styleAxis(svg.append('g').attr('transform','translate('+plotRight+',0)').call(d3.axisRight(y).tickValues(depthMajor).tickSize(14).tickFormat('')));

// longitude axis
var lonY = 1293;
svg.append('line').attr('x1',plotLeft).attr('x2',plotRight).attr('y1',lonY).attr('y2',lonY).attr('stroke','#111').attr('stroke-width',1.6);
styleAxis(svg.append('g').attr('transform','translate(0,'+(lonY-9)+')').call(d3.axisBottom(lon).tickValues(d3.range(-159,-85)).tickSize(19).tickFormat('')));
var lonAxis = styleAxis(svg.append('g').attr('transform','translate(0,'+(lonY-14)+')').call(d3.axisBottom(lon).tickValues(lonMajor).tickSize(28).tickPadding(14).tickFormat(function(d){return '\u2212'+Math.abs(d);})));
lonAxis.selectAll('text').attr('font-size',21).style('font-family','"Liberation Sans",Arial,sans-serif').style('fill','#000');

// axis names
svg.append('text').attr('x',72).attr('y',62).attr('text-anchor','end').attr('font-size',26).text('m');
svg.append('text').attr('x',72).attr('y',1272).attr('text-anchor','end').attr('font-size',25).text('km');
svg.append('text').attr('x',72).attr('y',1332).attr('text-anchor','end').attr('font-size',25).text('Lon');

// station marks along the top
var crossY = 49.3;
stationKm.forEach(function(k,i){
  var n = stationNo[i], px = x(k);
  if(stationLabelled.indexOf(n)>=0){
    svg.append('path').attr('d','M'+(px-9.5)+','+crossY+'H'+(px+9.5)+'M'+px+','+(crossY-9.5)+'V'+(crossY+9.5)).attr('stroke','#f03030').attr('stroke-width',1.2).attr('fill','none');
    svg.append('text').attr('transform','translate('+(px+5)+',31) rotate(-90)').attr('font-size',14.5).style('font-family','"Liberation Serif",serif').style('fill','#333').text(n);
  }
  svg.append('path').attr('d','M'+(px-5)+','+crossY+'H'+(px+5)+'M'+px+','+(crossY-4.5)+'V'+(crossY+4.5)).attr('stroke','#22cc22').attr('stroke-width',1.4).attr('fill','none');
});
</script>
</body>
</html>
